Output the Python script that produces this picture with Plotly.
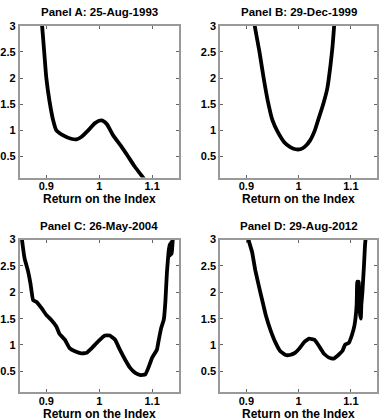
import plotly.graph_objects as go

titles = ["Panel A: 25-Aug-1993", "Panel B: 29-Dec-1999",
          "Panel C: 26-May-2004", "Panel D: 29-Aug-2012"]
x_label = "Return on the Index"
x_ticks = [0.9, 1.0, 1.1]
x_tick_text = ["0.9", "1", "1.1"]
y_ticks = [0.5, 1, 1.5, 2, 2.5, 3]
y_tick_text = ["0.5", "1", "1.5", "2", "2.5", "3"]

a_x = [0.891, 0.892, 0.896, 0.900, 0.906, 0.913, 0.919, 0.931, 0.947, 0.957, 0.966,
       0.979, 0.992, 1.004, 1.014, 1.026, 1.042, 1.054, 1.067, 1.082, 1.085]
a_y = [3.1, 3.0, 2.5, 2.0, 1.56, 1.19, 1.0, 0.91, 0.84, 0.83, 0.875,
       1.0, 1.14, 1.19, 1.125, 0.91, 0.69, 0.51, 0.31, 0.11, 0.07]

b_x = [0.915, 0.916, 0.925, 0.933, 0.941, 0.950, 0.960, 0.972, 0.984, 0.994, 1.003,
       1.012, 1.022, 1.031, 1.038, 1.047, 1.055, 1.061, 1.065, 1.068, 1.069]
b_y = [3.1, 3.0, 2.5, 2.0, 1.56, 1.19, 0.97, 0.78, 0.68, 0.64, 0.64,
       0.69, 0.81, 1.0, 1.22, 1.5, 1.81, 2.25, 2.62, 3.0, 3.1]

c_x = [0.853, 0.854, 0.859, 0.865, 0.870, 0.875, 0.881, 0.891, 0.900, 0.909, 0.919,
       0.925, 0.935, 0.944, 0.954, 0.966, 0.976, 0.985, 0.998, 1.011, 1.020,
       1.030, 1.039, 1.049, 1.058, 1.068, 1.078, 1.087, 1.093, 1.100, 1.109,
       1.112, 1.117, 1.122, 1.125, 1.128, 1.131, 1.133, 1.134, 1.136, 1.137, 1.139, 1.140]
c_y = [3.1, 3.0, 2.64, 2.42, 2.17, 1.85, 1.82, 1.70, 1.57, 1.48, 1.35,
       1.21, 1.10, 0.94, 0.88, 0.84, 0.85, 0.93, 1.07, 1.18, 1.18,
       1.10, 0.91, 0.72, 0.57, 0.47, 0.43, 0.44, 0.57, 0.76, 0.91,
       1.07, 1.32, 1.48, 1.82, 2.39, 2.76, 2.92, 2.70, 2.95, 2.73, 3.0, 3.1]

d_x = [0.903, 0.904, 0.911, 0.917, 0.925, 0.931, 0.937, 0.947, 0.956, 0.965, 0.975,
       0.983, 0.993, 1.002, 1.011, 1.020, 1.030, 1.039, 1.048, 1.058, 1.067,
       1.077, 1.084, 1.089, 1.096, 1.102, 1.107, 1.111, 1.112, 1.114, 1.115,
       1.117, 1.119, 1.120, 1.122, 1.125, 1.127, 1.128, 1.129]
d_y = [3.1, 3.0, 2.76, 2.42, 2.07, 1.82, 1.57, 1.26, 1.04, 0.88, 0.81,
       0.81, 0.85, 0.94, 1.06, 1.12, 1.10, 0.98, 0.84, 0.76, 0.74,
       0.82, 0.89, 1.01, 1.04, 1.19, 1.38, 1.76, 2.2, 1.88, 2.2,
       1.63, 1.5, 1.76, 2.0, 2.5, 2.89, 3.0, 3.1]

series = [(a_x, a_y), (b_x, b_y), (c_x, c_y), (d_x, d_y)]
smooth = [0.6, 0.6, 0.3, 0.3]

W, H = 379, 420
# panel boxes in pixels: (left, right, top, bottom)
boxes = [(17, 177, 20, 174), (219, 377, 20, 174),
         (17, 177, 237, 392), (219, 377, 237, 392)]

FONT = "Liberation Sans, Arial, sans-serif"
fig = go.Figure()
layout = dict(width=W, height=H, margin=dict(l=0, r=0, t=0, b=0),
              paper_bgcolor="white", plot_bgcolor="white", showlegend=False,
              font=dict(family=FONT, color="black"))
annotations = []
for i, ((xs, ys), (l, r, t, b), title, sm) in enumerate(zip(series, boxes, titles, smooth)):
    n = "" if i == 0 else str(i + 1)
    fig.add_trace(go.Scatter(x=xs, y=ys, mode="lines",
                             line=dict(color="black", width=3.8, shape="spline", smoothing=sm),
                             xaxis="x" + n, yaxis="y" + n, hoverinfo="skip"))
    common = dict(showline=True, linecolor="#999999", linewidth=2, mirror="allticks",
                  ticks="inside", ticklen=3, tickcolor="#666666", tickwidth=1,
                  showgrid=False, zeroline=False,
                  tickfont=dict(family=FONT, size=11, color="black", weight="bold"))
    layout["xaxis" + n] = dict(domain=[l / W, r / W], range=[0.85, 1.15],
                               tickvals=x_ticks, ticktext=x_tick_text,
                               ticklabelstandoff=-3,
                               anchor="y" + n, **common)
    layout["yaxis" + n] = dict(domain=[1 - b / H, 1 - t / H], range=[0.1, 3],
                               tickvals=y_ticks, ticktext=y_tick_text,
                               anchor="x" + n, **common)
    annotations.append(dict(text="<b>%s</b>" % title, x=(l + r) / 2 / W, y=1 - (t - 14) / H,
                            xref="paper", yref="paper", showarrow=False,
                            xanchor="center", yanchor="middle",
                            font=dict(family=FONT, size=11.5, color="black")))
    annotations.append(dict(text="<b>%s</b>" % x_label, x=(l + r) / 2 / W, y=1 - (b + 22) / H,
                            xref="paper", yref="paper", showarrow=False,
                            xanchor="center", yanchor="middle",
                            font=dict(family=FONT, size=12, color="black")))
layout["annotations"] = annotations
fig.update_layout(**layout)
fig.write_html("out.html", config={"displayModeBar": False},
               post_script="document.body.style.margin='0';document.body.style.overflow='hidden';")
